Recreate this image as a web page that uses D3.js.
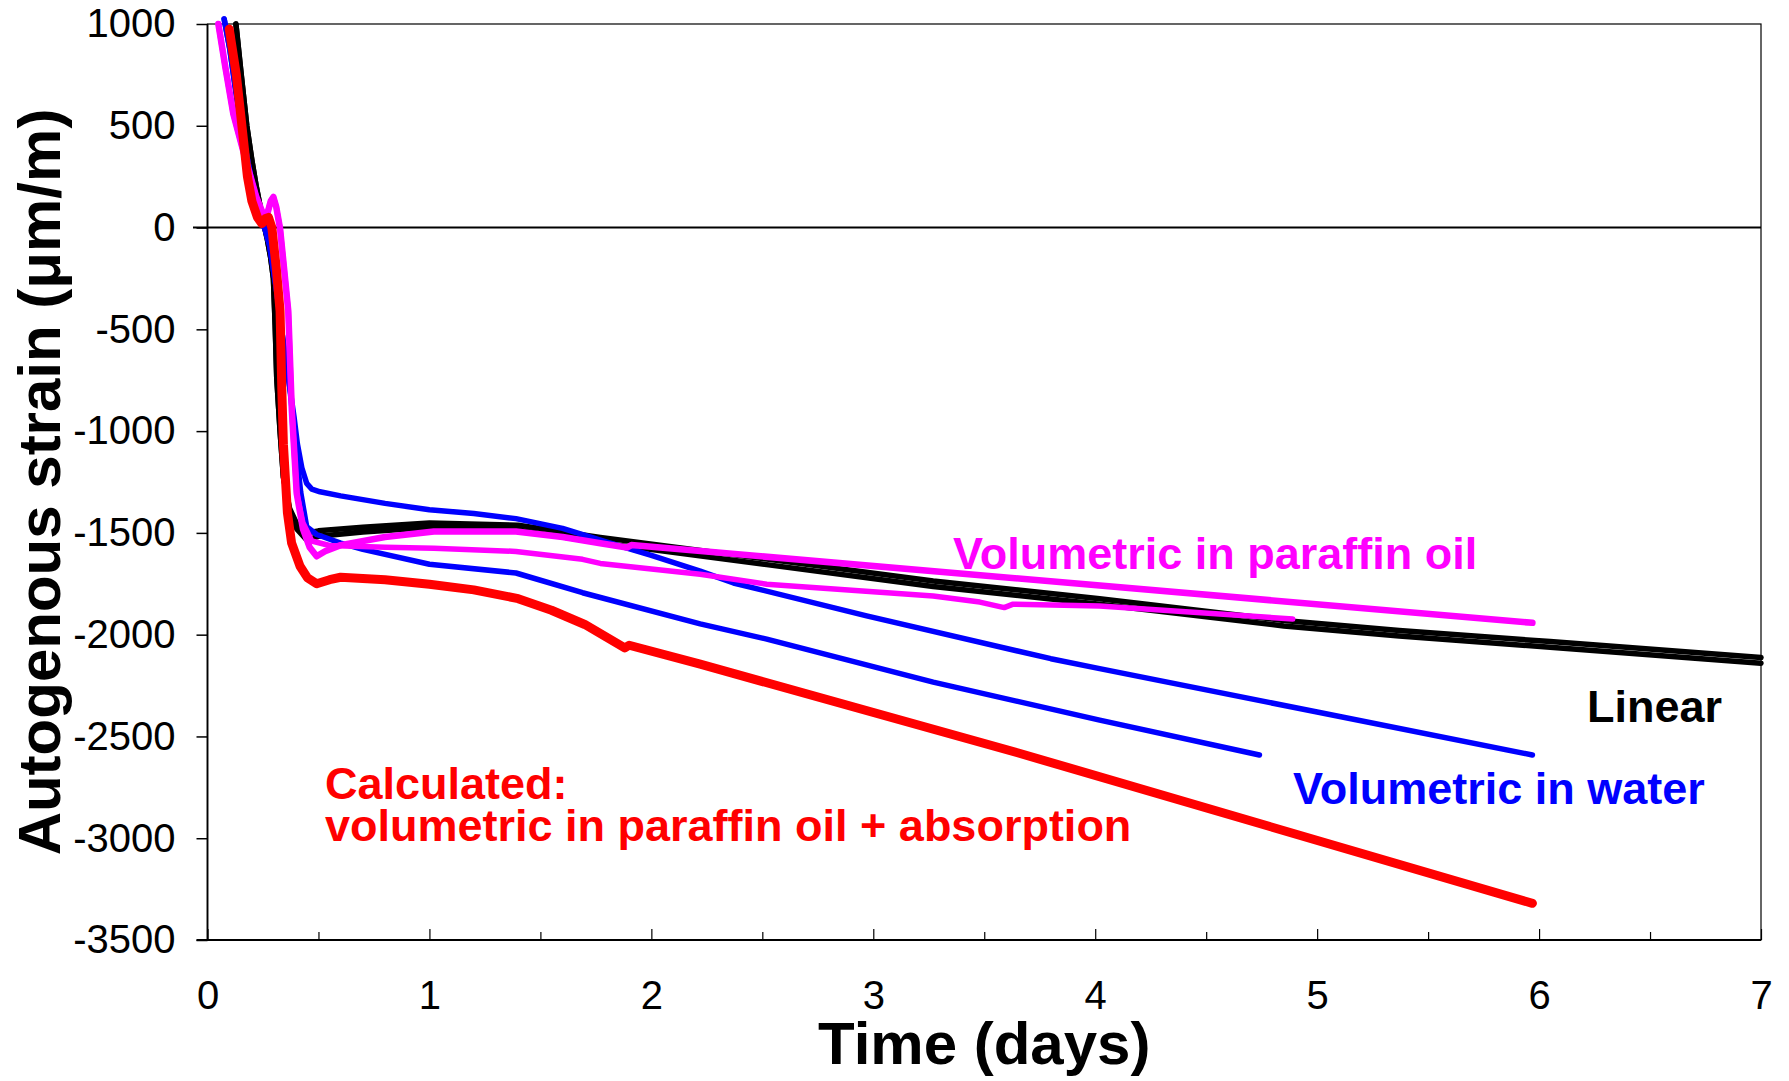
<!DOCTYPE html>
<html>
<head>
<meta charset="utf-8">
<script src="https://cdn.jsdelivr.net/npm/d3@7"></script>
<style>
  html, body { margin: 0; padding: 0; background: #fff; }
  svg { display: block; }
  text { font-family: "Liberation Sans", Arial, sans-serif; }
</style>
</head>
<body>
<svg id="chart" width="1789" height="1081"></svg>
<script>
// ---------- data: [day, strain (µm/m)] ----------
const linearUpper = [[0.128,1000],[0.15,770],[0.177,500],[0.2,330],[0.22,200],[0.245,60],[0.269,-54],[0.285,-150],[0.297,-250],[0.305,-480],[0.312,-737],[0.327,-1000],[0.342,-1225],[0.37,-1380],[0.402,-1455],[0.447,-1500],[0.5,-1490],[0.7,-1472],[1.0,-1452],[1.4,-1462],[1.77,-1522],[2.52,-1629],[3.27,-1736],[4.02,-1824],[4.85,-1930],[5.37,-1979],[6.05,-2034],[7.0,-2112]];
const linearLower = [[0.128,1000],[0.15,770],[0.177,500],[0.2,330],[0.22,200],[0.245,60],[0.269,-54],[0.285,-150],[0.297,-250],[0.305,-480],[0.312,-737],[0.327,-1000],[0.342,-1225],[0.37,-1390],[0.402,-1480],[0.447,-1535],[0.5,-1517],[0.7,-1496],[1.0,-1474],[1.4,-1486],[1.77,-1549],[2.52,-1656],[3.27,-1763],[4.02,-1851],[4.85,-1957],[5.37,-2006],[6.05,-2062],[7.0,-2140]];

const waterUpper = [[0.075,1025],[0.1,880],[0.13,650],[0.16,450],[0.2,220],[0.24,40],[0.26,-10],[0.28,-90],[0.31,-300],[0.34,-550],[0.37,-780],[0.39,-930],[0.405,-1062],[0.425,-1180],[0.447,-1257],[0.47,-1285],[0.507,-1298],[0.6,-1318],[0.8,-1355],[1.0,-1386],[1.2,-1405],[1.39,-1430],[1.6,-1478],[1.8,-1545],[2.0,-1610],[2.22,-1688],[2.37,-1746],[2.97,-1908],[3.8,-2118],[4.02,-2167],[5.0,-2380],[5.97,-2591]];
const waterLower = [[0.075,1025],[0.1,880],[0.13,650],[0.16,450],[0.2,220],[0.24,40],[0.26,-10],[0.28,-90],[0.31,-300],[0.34,-550],[0.37,-780],[0.385,-930],[0.4,-1100],[0.42,-1300],[0.447,-1470],[0.492,-1508],[0.6,-1550],[0.7,-1581],[1.0,-1654],[1.39,-1697],[1.69,-1794],[2.22,-1947],[2.52,-2022],[3.27,-2233],[4.02,-2420],[4.74,-2591]];

const paraffinUpper = [[0.049,1000],[0.08,790],[0.116,560],[0.16,380],[0.22,150],[0.255,55],[0.27,70],[0.285,130],[0.297,150],[0.31,100],[0.327,-5],[0.345,-200],[0.364,-410],[0.38,-898],[0.402,-1306],[0.43,-1480],[0.46,-1570],[0.492,-1615],[0.53,-1590],[0.6,-1560],[0.8,-1520],[1.02,-1493],[1.39,-1493],[1.6,-1520],[1.77,-1551],[1.89,-1572],[1.91,-1560],[5.97,-1942]];
const paraffinLower = [[0.049,1000],[0.08,790],[0.116,560],[0.16,380],[0.22,150],[0.255,55],[0.27,70],[0.285,130],[0.297,150],[0.31,100],[0.327,-5],[0.345,-200],[0.364,-410],[0.38,-898],[0.402,-1306],[0.43,-1450],[0.47,-1540],[0.55,-1562],[0.8,-1570],[1.02,-1575],[1.39,-1591],[1.69,-1630],[1.77,-1650],[2.22,-1703],[2.52,-1752],[3.27,-1810],[3.48,-1840],[3.59,-1867],[3.63,-1850],[4.02,-1859],[4.89,-1923]];

const calculated = [[0.098,975],[0.13,750],[0.155,500],[0.18,250],[0.2,130],[0.225,50],[0.245,20],[0.262,45],[0.275,50],[0.29,0],[0.31,-200],[0.327,-410],[0.335,-800],[0.342,-1064],[0.36,-1400],[0.379,-1550],[0.417,-1664],[0.45,-1720],[0.492,-1750],[0.55,-1730],[0.6,-1718],[0.8,-1730],[1.0,-1752],[1.2,-1780],[1.4,-1823],[1.55,-1880],[1.7,-1950],[1.88,-2065],[1.9,-2052],[2.22,-2145],[3.65,-2580],[5.97,-3320]];

const yTicks = [1000, 500, 0, -500, -1000, -1500, -2000, -2500, -3000, -3500];
const xMajorTicks = [0, 1, 2, 3, 4, 5, 6, 7];
const xMinorTicks = [0.5, 1.5, 2.5, 3.5, 4.5, 5.5, 6.5];

const labels = [
  {text: "Volumetric in paraffin oil", color: "#FF00FF"},
  {text: "Linear", color: "#000000"},
  {text: "Volumetric in water", color: "#0000FF"},
  {text: "Calculated:", color: "#FF0000"},
  {text: "volumetric in paraffin oil + absorption", color: "#FF0000"}
];
const xTitle = "Time (days)";
const yTitle = "Autogenous strain (\u03BCm/m)";

// ---------- layout ----------
const svg = d3.select("#chart");
const L = 207.5, R = 1761, T = 24, B = 940;
const x = d3.scaleLinear().domain([0, 7]).range([L, R]);
const y = d3.scaleLinear().domain([-3500, 1000]).range([B, T]);

svg.append("rect").attr("width", 1789).attr("height", 1081).attr("fill", "#fff");

// frame
svg.append("rect").attr("x", L).attr("y", T).attr("width", R - L).attr("height", B - T)
  .attr("fill", "none").attr("stroke", "#000").attr("stroke-width", 1.2);
svg.append("line").attr("x1", L).attr("x2", L).attr("y1", T).attr("y2", B).attr("stroke", "#000").attr("stroke-width", 1.8);
svg.append("line").attr("x1", L - 11).attr("x2", R).attr("y1", B).attr("y2", B).attr("stroke", "#000").attr("stroke-width", 1.8);

// zero line
svg.append("line").attr("x1", 193).attr("x2", R).attr("y1", y(0)).attr("y2", y(0))
  .attr("stroke", "#000").attr("stroke-width", 2);

// y axis
const yAxis = svg.append("g").attr("transform", `translate(${L},0)`)
  .call(d3.axisLeft(y).tickValues(yTicks).tickSize(11).tickPadding(21).tickFormat(d => String(d)));
yAxis.select(".domain").remove();
yAxis.selectAll("line").attr("stroke-width", 1.5);
yAxis.selectAll("text").attr("font-size", 40).attr("fill", "#000")
  .style("font-family", "'Liberation Sans', Arial, sans-serif");

// x axis major
const xAxis = svg.append("g").attr("transform", `translate(0,${B})`)
  .call(d3.axisBottom(x).tickValues(xMajorTicks).tickSize(-11).tickPadding(41).tickFormat(d => String(d)));
xAxis.select(".domain").remove();
xAxis.selectAll("line").attr("stroke-width", 1.2);
xAxis.selectAll("text").attr("font-size", 40).attr("fill", "#000")
  .style("font-family", "'Liberation Sans', Arial, sans-serif");
// x axis minor
const xMinor = svg.append("g").attr("transform", `translate(0,${B})`)
  .call(d3.axisBottom(x).tickValues(xMinorTicks).tickSize(-8).tickFormat(""));
xMinor.select(".domain").remove();
xMinor.selectAll("line").attr("stroke-width", 1.2);

// ---------- series ----------
const line = d3.line().x(d => x(d[0])).y(d => y(d[1])).curve(d3.curveLinear);
const series = [
  {data: linearUpper, color: "#000000", w: 5.5},
  {data: linearLower, color: "#000000", w: 5.5},
  {data: waterUpper, color: "#0000FF", w: 5.5},
  {data: waterLower, color: "#0000FF", w: 5.5},
  {data: paraffinLower, color: "#FF00FF", w: 5.5},
  {data: paraffinUpper, color: "#FF00FF", w: 6.5},
  {data: calculated, color: "#FF0000", w: 9}
];
svg.append("g").selectAll("path").data(series).join("path")
  .attr("d", s => line(s.data))
  .attr("fill", "none")
  .attr("stroke", s => s.color)
  .attr("stroke-width", s => s.w)
  .attr("stroke-linecap", "round")
  .attr("stroke-linejoin", "round");

// ---------- annotations ----------
const labelPos = [[953, 569], [1587, 722], [1293, 804], [325, 799], [325, 841]];
svg.append("g").selectAll("text").data(labels).join("text")
  .attr("x", (d, i) => labelPos[i][0])
  .attr("y", (d, i) => labelPos[i][1])
  .attr("fill", d => d.color)
  .attr("font-size", 45)
  .attr("font-weight", "bold")
  .text(d => d.text);

// axis titles
svg.append("text").attr("x", (L + R) / 2).attr("y", 1064).attr("text-anchor", "middle")
  .attr("font-size", 60).attr("font-weight", "bold").text(xTitle);
svg.append("text").attr("transform", `translate(60,${(T + B) / 2}) rotate(-90)`)
  .attr("text-anchor", "middle").attr("font-size", 60).attr("font-weight", "bold").text(yTitle);
</script>
</body>
</html>
